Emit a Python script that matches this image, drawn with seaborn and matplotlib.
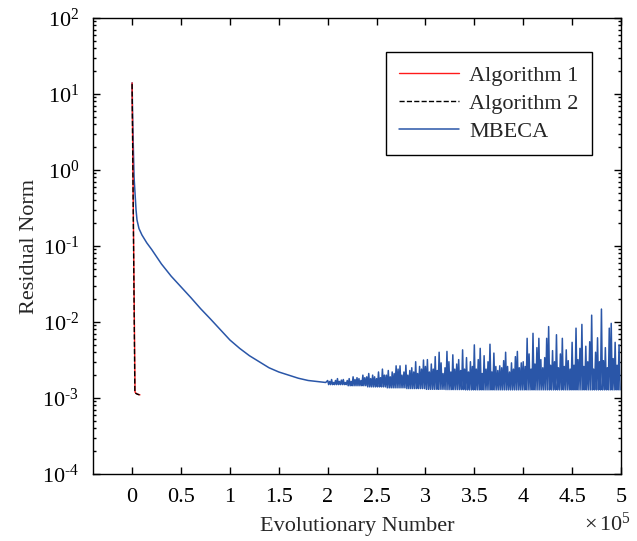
import numpy as np
import pandas as pd
import matplotlib
matplotlib.use('Agg')
import matplotlib.pyplot as plt
import seaborn as sns
from matplotlib.ticker import FuncFormatter, LogLocator, FixedLocator, NullFormatter

# Algorithm 1 / 2 (evolutionary number, residual norm)
alg1_x = [0, 3000, 4000, 6000, 8000]
alg1_y = [14, 1.2e-3, 1.15e-3, 1.12e-3, 1.1e-3]
alg2_x = [0, 2800, 3800, 5500, 7500]
alg2_y = [13.5, 1.2e-3, 1.15e-3, 1.12e-3, 1.1e-3]

# MBECA smooth part (x in units of 1e5)
mb_smooth_x = [0, 0.005, 0.02, 0.04, 0.05, 0.07, 0.1, 0.15, 0.2, 0.3, 0.4, 0.5, 0.6, 0.7,
               0.8, 0.9, 1.0, 1.1, 1.2, 1.3, 1.4, 1.5, 1.6, 1.7, 1.8, 1.98]
mb_smooth_y = [14, 5, 0.8, 0.3, 0.22, 0.17, 0.14, 0.11, 0.09, 0.058, 0.04, 0.029, 0.021,
               0.015, 0.011, 0.008, 0.0058, 0.0045, 0.0036, 0.003, 0.0025, 0.0022,
               0.002, 0.00182, 0.0017, 0.0016]

# MBECA noisy part: spike heights (x1e-3), one every 0.02e5 from 2.0e5
spikes_20 = [1.7, 1.65, 1.75, 1.6, 1.7, 1.8, 1.65, 1.72, 1.75, 1.6]
spikes_22 = [1.7, 1.8, 1.65, 1.9, 1.75, 1.85, 1.8, 1.7, 2.0, 1.85]
spikes_24 = [1.9, 2.1, 1.8, 2.0, 1.9, 1.8, 2.2, 1.85, 2.4, 2.0]
spikes_26 = [2.0, 2.3, 1.9, 2.2, 2.1, 2.65, 2.4, 2.65, 2.0, 2.2]
spikes_28 = [2.7, 2.0, 2.3, 2.5, 2.2, 3.0, 2.1, 2.6, 2.4, 3.16]
spikes_30 = [2.6, 3.2, 2.2, 2.8, 2.4, 3.5, 2.3, 4.0, 2.9, 2.1]
spikes_32 = [2.5, 4.1, 3.0, 2.2, 3.7, 2.4, 2.8, 3.2, 2.3, 4.3]
spikes_34 = [2.4, 3.4, 2.2, 3.0, 2.6, 5.0, 2.4, 3.2, 4.5, 2.1]
spikes_36 = [3.6, 2.4, 3.0, 5.1, 2.2, 3.9, 2.6, 2.3, 2.65, 2.5]
spikes_38 = [3.1, 4.0, 2.6, 2.2, 2.9, 2.4, 3.5, 4.1, 2.5, 2.9]
spikes_40 = [3.0, 2.6, 6.1, 3.8, 2.4, 7.1, 2.8, 4.6, 6.1, 3.2]
spikes_42 = [2.5, 3.4, 6.1, 8.7, 2.7, 4.2, 3.0, 6.8, 2.5, 3.8]
spikes_44 = [6.1, 2.6, 4.3, 3.1, 2.4, 5.4, 2.7, 8.3, 3.2, 4.5]
spikes_46 = [9.3, 2.6, 4.8, 3.0, 5.5, 12.3, 2.4, 4.0, 6.2, 3.0]
spikes_48 = [14.8, 3.1, 4.6, 2.5, 8.3, 9.6, 3.3, 5.4, 2.7, 5.0]
# floor of the noisy band for each 0.2e5 block (x1e-3)
floor_blocks = [1.5, 1.45, 1.4, 1.36, 1.33, 1.3, 1.29, 1.28, 1.28, 1.28,
                1.28, 1.28, 1.28, 1.28, 1.28]

spikes = (spikes_20 + spikes_22 + spikes_24 + spikes_26 + spikes_28 + spikes_30 +
          spikes_32 + spikes_34 + spikes_36 + spikes_38 + spikes_40 + spikes_42 +
          spikes_44 + spikes_46 + spikes_48)

noise_x, noise_y = [], []
for i, s in enumerate(spikes):
    noise_x += [2.0 + 0.02 * i, 2.01 + 0.02 * i]
    noise_y += [s * 1e-3, floor_blocks[i // 10] * 1e-3]

mb_x = np.array(mb_smooth_x + noise_x) * 1e5
mb_y = np.array(mb_smooth_y + noise_y)

df_mb = pd.DataFrame({'x': mb_x, 'y': mb_y})
df_a1 = pd.DataFrame({'x': alg1_x, 'y': alg1_y})
df_a2 = pd.DataFrame({'x': alg2_x, 'y': alg2_y})

sns.set_style('ticks')
plt.rcParams['font.family'] = ['Liberation Serif', 'DejaVu Serif']
plt.rcParams['mathtext.fontset'] = 'custom'
plt.rcParams['mathtext.rm'] = 'Liberation Serif'
plt.rcParams['mathtext.it'] = 'Liberation Serif:italic'
plt.rcParams['font.size'] = 16

fig = plt.figure(figsize=(6.37, 5.41), dpi=100)
ax = fig.add_axes([93 / 637, (541 - 474) / 541, (621 - 93) / 637, (474 - 18) / 541])

blue = '#2a56a8'
sns.lineplot(data=df_mb, x='x', y='y', color=blue, lw=1.1, estimator=None,
             sort=False, ax=ax, label='MBECA')
sns.lineplot(data=df_a1, x='x', y='y', color='#ff1a1a', lw=1.0, estimator=None,
             sort=False, ax=ax, label='Algorithm 1')
sns.lineplot(data=df_a2, x='x', y='y', color='black', lw=1.0, linestyle='--',
             estimator=None, sort=False, ax=ax, label='Algorithm 2')

ax.set_yscale('log')
ax.set_ylim(1e-4, 1e2)
ax.set_xlim(-0.4e5, 5e5)


def ylab(v, p):
    e = int(round(np.log10(v)))
    s = str(e).replace('-', '\u2010')
    return r'$10^{%s}$' % s


ax.xaxis.set_major_locator(FixedLocator(np.arange(0, 5.01e5, 0.5e5)))
ax.xaxis.set_major_formatter(FuncFormatter(lambda v, p: '%g' % (v / 1e5)))
ax.yaxis.set_major_locator(FixedLocator([1e-4, 1e-3, 1e-2, 1e-1, 1, 10, 100]))
ax.yaxis.set_minor_locator(LogLocator(base=10, subs=np.arange(2, 10), numticks=20))
ax.yaxis.set_minor_formatter(NullFormatter())
ax.yaxis.set_major_formatter(FuncFormatter(ylab))

ax.tick_params(which='both', direction='in', top=True, right=True, colors='black',
               labelsize=16, width=1)
ax.tick_params(which='major', length=5)
ax.tick_params(which='minor', length=2.5)
ax.tick_params(axis='x', pad=10)
ax.tick_params(axis='y', pad=10)
for sp in ax.spines.values():
    sp.set_linewidth(1.0)
    sp.set_color('black')

ax.set_xlabel('Evolutionary Number', fontsize=16, labelpad=7)
ax.set_ylabel('Residual Norm', fontsize=16, labelpad=2)
fig.text(631 / 637, (541 - 524) / 541, r'$\times\,10^{5}$', ha='right',
         va='center', fontsize=16)

h, l = ax.get_legend_handles_labels()
order = [1, 2, 0]
ax.legend([h[i] for i in order], [l[i] for i in order], loc='upper right',
          bbox_to_anchor=(592 / 637, (541 - 52) / 541), bbox_transform=fig.transFigure,
          borderaxespad=0, frameon=True, fancybox=False, edgecolor='black',
          framealpha=1, handlelength=2.7, handletextpad=0.45, labelspacing=0.33,
          borderpad=0.6, fontsize=16)
ax.get_legend().get_frame().set_linewidth(1.0)

fig.savefig('out.png', dpi=100)
